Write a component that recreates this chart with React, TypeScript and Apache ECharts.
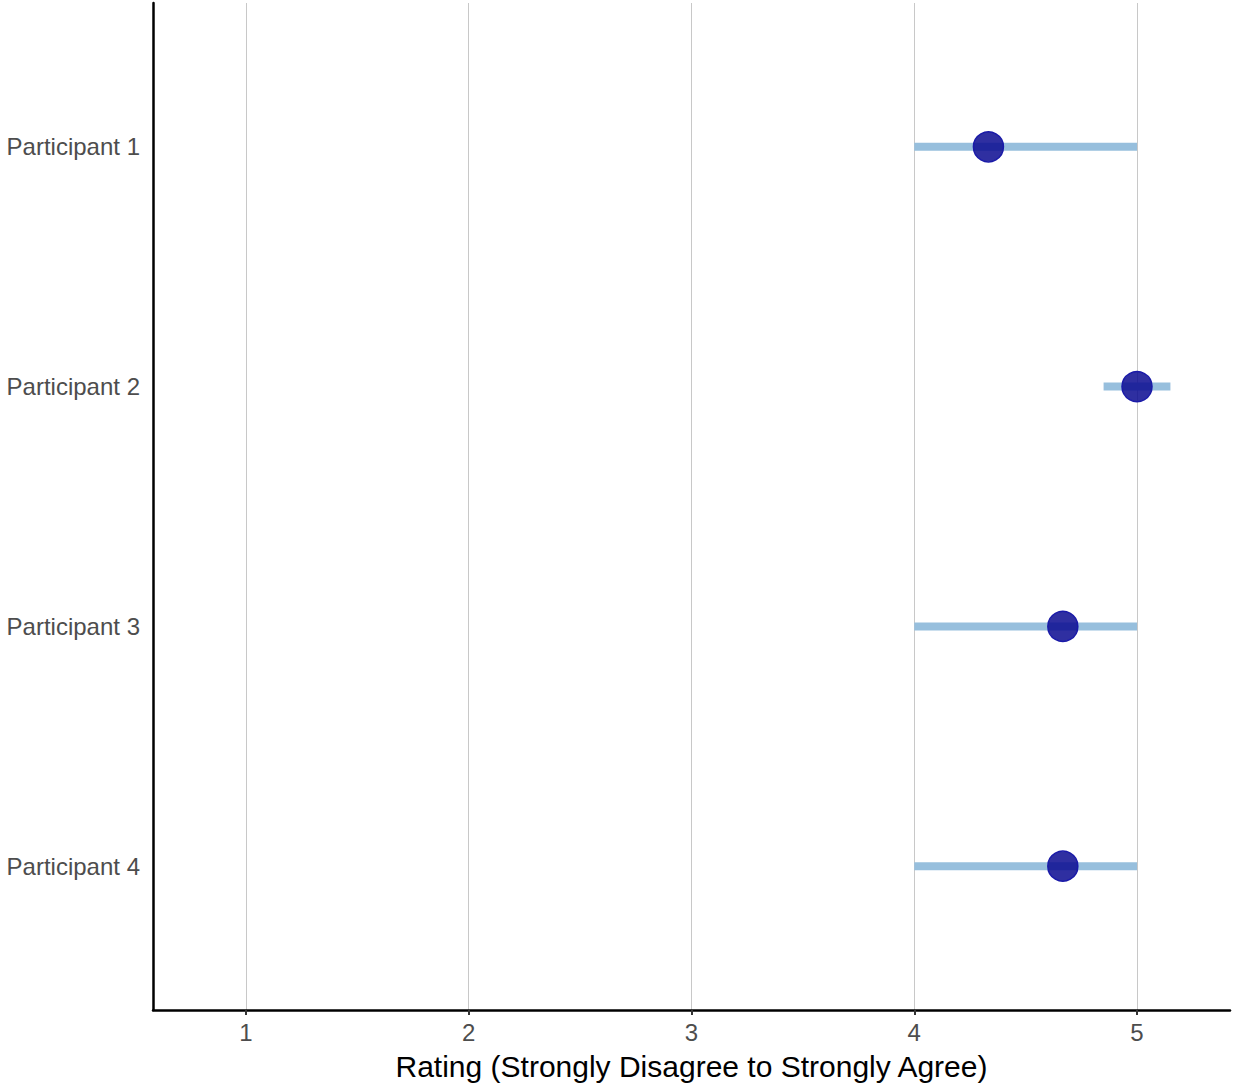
import React, { useEffect, useRef } from "react";
import * as echarts from "echarts";

const participants = ["Participant 1", "Participant 2", "Participant 3", "Participant 4"];
const means = [4.333, 5, 4.667, 4.667];
const lows = [4, 4.85, 4, 4];
const highs = [5, 5.15, 5, 5];
const xTicks = [1, 2, 3, 4, 5];

export default function App() {
  const ref = useRef<HTMLDivElement>(null);
  useEffect(() => {
    const chart = echarts.init(ref.current!, null, { renderer: "svg" });
    const font = "'Liberation Sans', Arial, sans-serif";
    chart.setOption({
      animation: false,
      backgroundColor: "#ffffff",
      grid: { left: 153, right: 4, top: 3, bottom: 77, containLabel: false },
      xAxis: {
        type: "value",
        min: 0.5825,
        max: 5.4175,
        name: "Rating (Strongly Disagree to Strongly Agree)",
        nameLocation: "middle",
        nameGap: 41,
        nameTextStyle: { fontFamily: font, fontSize: 30, color: "#000000" },
        axisLine: { show: true, onZero: false, lineStyle: { color: "#000000", width: 2.5 } },
        axisTick: { show: true, customValues: xTicks, length: 5, lineStyle: { color: "#333333", width: 2 } },
        axisLabel: {
          customValues: xTicks,
          margin: 10,
          fontFamily: font,
          fontSize: 24,
          color: "#4d4d4d",
        },
        splitLine: { show: true, lineStyle: { color: "#c8c8c8", width: 1 } },
      },
      yAxis: {
        type: "value",
        min: 0.4,
        max: 4.6,
        inverse: true,
        axisLine: { show: true, onZero: false, lineStyle: { color: "#000000", width: 2.5 } },
        axisTick: { show: false },
        axisLabel: {
          customValues: [1, 2, 3, 4],
          formatter: (v: number) => participants[Math.round(v) - 1] ?? "",
          margin: 13,
          fontFamily: font,
          fontSize: 24,
          color: "#4d4d4d",
        },
        splitLine: { show: false },
      },
      series: [
        {
          type: "custom",
          data: participants.map((_, i) => [lows[i], highs[i], i + 1]),
          renderItem: (params: any, api: any) => {
            const p1 = api.coord([api.value(0), api.value(2)]);
            const p2 = api.coord([api.value(1), api.value(2)]);
            return {
              type: "line",
              shape: { x1: p1[0], y1: p1[1], x2: p2[0], y2: p2[1] },
              style: { stroke: "#97bfdd", lineWidth: 8 },
            };
          },
          z: 2,
        },
        {
          type: "scatter",
          data: participants.map((_, i) => [means[i], i + 1]),
          symbol: "circle",
          symbolSize: 30,
          itemStyle: {
            color: "rgba(10,10,145,0.85)",
            borderColor: "#1a1aa8",
            borderWidth: 1.5,
            opacity: 1,
          },
          z: 3,
        },
      ],
    });
    return () => chart.dispose();
  }, []);
  return (
    <div
      ref={ref}
      style={{ position: "absolute", left: 0, top: 0, width: 1234, height: 1087 }}
    />
  );
}
